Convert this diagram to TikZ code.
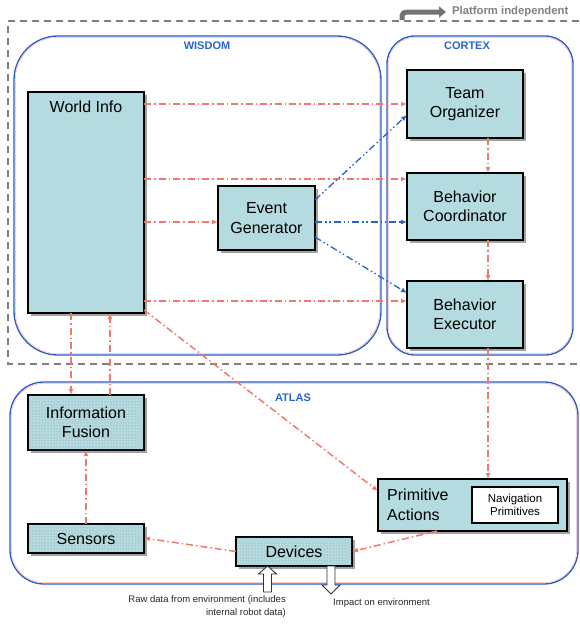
\documentclass[tikz,border=0pt]{standalone}
\usepackage{fontspec}
\setmainfont{Liberation Sans}
\usetikzlibrary{arrows.meta,shadows,patterns,calc}
\definecolor{boxfill}{RGB}{180,220,224}
\definecolor{contblue}{RGB}{40,90,200}
\definecolor{lblblue}{RGB}{40,100,205}
\definecolor{arrred}{RGB}{242,120,108}
\definecolor{arrblue}{RGB}{40,100,200}
\definecolor{pinkline}{RGB}{248,180,188}
\tikzset{
  box/.style={draw=black, line width=1.7pt, fill=boxfill, inner sep=0pt, outer sep=0pt,
    drop shadow={shadow xshift=2.5pt, shadow yshift=-2.5pt, fill=black!45, opacity=0.8},
    align=center, font=\fontsize{16}{19.5}\selectfont},
  dotbox/.style={box, postaction={pattern=dots, pattern color=black!45}},
  cont/.style={draw=contblue, line width=1.3pt},
  contin/.style={draw=pinkline, line width=0.5pt},
  contlbl/.style={text=lblblue, font=\fontsize{11}{13}\selectfont\bfseries},
  redarr/.style={draw=arrred, line width=1.5pt, dash pattern=on 7pt off 3pt on 1.5pt off 3pt,
    -{Latex[length=6pt,width=5pt]}},
  bluearr/.style={draw=arrblue, line width=1.3pt, dash pattern=on 7pt off 3pt on 1.5pt off 2.5pt on 1.5pt off 3pt,
    -{Latex[length=6pt,width=5pt]}},
  hollow/.style={draw=black!80, fill=white, line width=0.9pt},
  smalltxt/.style={font=\fontsize{9.5}{13}\selectfont, text=black!85, inner sep=0pt}
}
\begin{document}
\begin{tikzpicture}[x=1pt,y=-1pt]
\useasboundingbox (0,0) rectangle (579,624);
% platform independent region
\draw[black!50, line width=1.3pt, dash pattern=on 7pt off 5pt] (579,21) -- (8,21) -- (8,364) -- (579,364);
\draw[black!55, line width=5pt, -{Triangle[length=7pt,width=11pt]}] (402,20) .. controls (402,12) .. (414,12) -- (446,12);
\node[text=black!50, font=\fontsize{11.3}{13}\selectfont\bfseries, anchor=west, inner sep=0pt] (plat) at (452,12) {Platform independent};
% containers
\draw[cont, rounded corners=44pt] (14,36) rectangle (381,355);
\draw[contin, rounded corners=43pt] (15.3,37.3) rectangle (379.7,353.7);
\node[contlbl] (wisdom) at (207,46) {WISDOM};
\draw[cont, rounded corners=28pt] (387,36) rectangle (573,355);
\draw[contin, rounded corners=27pt] (388.3,37.3) rectangle (571.7,353.7);
\node[contlbl] (cortex) at (467,46) {CORTEX};
\draw[cont, rounded corners=34pt] (10,382) rectangle (578,584);
\draw[contin, rounded corners=33pt] (11.3,383.3) rectangle (576.7,582.7);
\node[contlbl] (atlas) at (293,398) {ATLAS};
% boxes
\node[box, minimum width=116pt, minimum height=221pt,
  label={[anchor=north, yshift=-5pt, font=\fontsize{16}{19.5}\selectfont]north:World Info}] (WI) at (86,202.5) {};
\node[box, minimum width=97pt, minimum height=64pt] (EG) at (266.5,218) {Event\\Generator};
\node[box, minimum width=116pt, minimum height=68pt] (TO) at (465,104) {Team\\Organizer};
\node[box, minimum width=116pt, minimum height=67pt] (BC) at (465,206.5) {Behavior\\Coordinator};
\node[box, minimum width=116pt, minimum height=67pt] (BE) at (465,314.5) {Behavior\\Executor};
\node[dotbox, minimum width=116pt, minimum height=55pt] (IF) at (86,422.5) {Information\\Fusion};
\node[dotbox, minimum width=116pt, minimum height=29pt] (SE) at (86,538.5) {Sensors};
\node[dotbox, minimum width=116pt, minimum height=29pt] (DV) at (294,551.5) {Devices};
\node[box, minimum width=189pt, minimum height=52pt] (PA) at (472.5,505) {};
\node[align=left, anchor=west, inner sep=0pt, font=\fontsize{16}{19.5}\selectfont] (PAt) at ([xshift=9pt]PA.west) {Primitive\\Actions};
\node[draw=black, line width=1.2pt, fill=white, minimum width=86pt, minimum height=36pt, inner sep=0pt,
  align=center, font=\fontsize{11.5}{13.5}\selectfont] (NP) at (515,505) {Navigation\\Primitives};
% red arrows from World Info
\draw[redarr] (WI.east |- TO.west) -- (TO.west);
\draw[redarr] (WI.east |- 0,179) -- (BC.west |- 0,179);
\draw[redarr] (WI.east |- 0,222) -- (EG.west |- 0,222);
\draw[redarr] (WI.east |- 0,301) -- (BE.west |- 0,301);
\draw[redarr] (WI.south east) ++(0,-3) -- ([yshift=-12pt]PA.north west);
% cortex chain
\draw[redarr] (TO.south -| 488,0) -- (BC.north -| 488,0);
\draw[redarr] (BC.south -| 488,0) -- (BE.north -| 488,0);
\draw[redarr] (BE.south -| 488,0) -- (PA.north -| 488,0);
% blue from Event Generator
\draw[bluearr] (EG.east |- 0,200) -- (TO.west |- 0,115);
\draw[bluearr] (EG.east |- 0,222) -- (BC.west |- 0,222);
\draw[bluearr] (EG.east |- 0,237) -- (BE.west |- 0,293);
% atlas flows
\draw[redarr] (WI.south -| 71,0) -- (IF.north -| 71,0);
\draw[redarr] (IF.north -| 110,0) -- (WI.south -| 110,0);
\draw[redarr] (SE.north -| 86,0) -- (IF.south -| 86,0);
\draw[redarr] (DV.west) -- (SE.east |- 0,538);
\draw[redarr] (PA.south -| 437,0) -- (DV.east);
% hollow arrows
\coordinate (uptip) at ([xshift=-26.5pt]DV.south);
\draw[hollow] (uptip) -- ++(9,8) -- ++(-5,0) -- ++(0,18) -- ++(-8,0) -- ++(0,-18) -- ++(-5,0) -- cycle;
\coordinate (dnbase) at ([xshift=37pt]DV.south);
\draw[hollow] (dnbase) ++(-4,0) -- ++(8,0) -- ++(0,19) -- ++(5,0) -- ++(-9,9) -- ++(-9,-9) -- ++(5,0) -- cycle;
\node[smalltxt, align=right, anchor=north east] (raw) at (286,595) {Raw data from environment (includes\\internal robot data)};
\node[smalltxt, anchor=west] (imp) at (333,603) {Impact on environment};
\end{tikzpicture}
\end{document}
